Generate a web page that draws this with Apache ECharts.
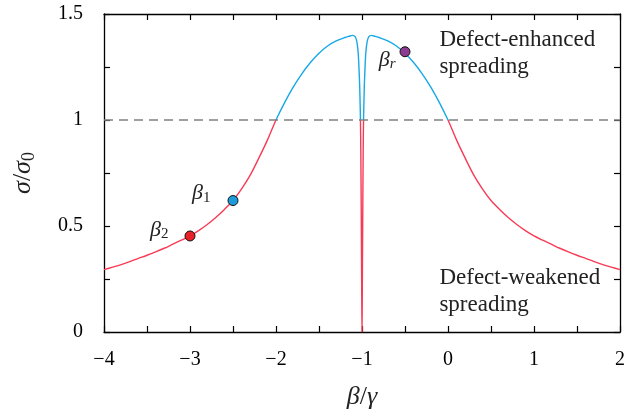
<!DOCTYPE html>
<html>
<head>
<meta charset="utf-8">
<script src="https://cdn.jsdelivr.net/npm/echarts@6/dist/echarts.min.js"></script>
<style>
html,body{margin:0;padding:0;background:#fff}
#main{width:640px;height:416px}
</style>
</head>
<body>
<div id="main"></div>
<script>
// curve: sigma/sigma0 against beta/gamma
var betaX=[-4.0,-3.9,-3.8,-3.7,-3.6,-3.5,-3.4,-3.3,-3.2,-3.1,-3.0,-2.9,-2.8,-2.7,-2.6,-2.5,-2.4,-2.3,-2.2,-2.1,-2.0,-1.9,-1.8,-1.7,-1.6,-1.5,-1.4,-1.3,-1.2,
    -1.15,-1.11,-1.08,-1.06,-1.045,-1.035,-1.027,-1.022,-1.018,-1.014,-1.01,-1.006,-1.003,-1.0,
    -0.997,-0.994,-0.99,-0.986,-0.982,-0.978,-0.973,-0.965,-0.955,-0.94,-0.92,-0.89,-0.85,
    -0.8,-0.7,-0.6,-0.5,-0.4,-0.3,-0.2,-0.1,0.0,0.1,0.2,0.3,0.4,0.5,0.6,0.7,0.8,0.9,1.0,1.1,1.2,1.3,1.4,1.5,1.6,1.7,1.8,1.9,2.0];
var sigmaY=[0.294,0.306,0.318,0.332,0.347,0.362,0.378,0.395,0.414,0.433,0.453,0.478,0.507,0.540,0.578,0.620,0.675,0.740,0.820,0.905,1.000,1.082,1.155,1.218,1.271,1.315,1.349,1.373,1.389,
    1.395,1.399,1.393,1.370,1.320,1.245,1.160,1.080,1.000,0.860,0.640,0.380,0.170,0.0,
    0.170,0.380,0.640,0.860,1.000,1.080,1.160,1.245,1.320,1.370,1.393,1.399,1.395,
    1.389,1.373,1.349,1.315,1.271,1.218,1.155,1.082,1.000,0.905,0.820,0.740,0.675,0.620,0.578,0.540,0.507,0.478,0.453,0.433,0.414,0.395,0.378,0.362,0.347,0.332,0.318,0.306,0.294];

// marked points
var markSub=['2','1','r'];
var markX=[-3.0,-2.5,-0.5];
var markY=[0.453,0.620,1.322];

var xLabels=[-4,-3,-2,-1,0,1,2];
var yLabels=[0,0.5,1,1.5];
var refLevel=1;

var serif='"Liberation Serif", "DejaVu Serif", serif';
var RED='#f83a55', BLUE='#17a8e6';
var markFill=['#e8202a','#1c9bdb','#8d3a92'];
var markLabel=[
    {distance:16,offset:[0,-6],italicSub:false},
    {distance:17,offset:[0,-7],italicSub:false},
    {distance:4,offset:[0,8],italicSub:true}
];

function minus(v){ return String(v).replace('-','\u2212'); }

var curve=[];
for(var i=0;i<betaX.length;i++) curve.push([betaX[i],sigmaY[i]]);

var marks=[];
for(var i=0;i<markX.length;i++){
    marks.push({
        value:[markX[i],markY[i]],
        itemStyle:{color:markFill[i]},
        label:{show:true,position:'left',distance:markLabel[i].distance,offset:markLabel[i].offset,
            formatter:'{b|β}{s|'+markSub[i]+'}',
            rich:{
                b:{fontFamily:serif,fontStyle:'italic',fontSize:22,color:'#222'},
                s:{fontFamily:serif,fontStyle:markLabel[i].italicSub?'italic':'normal',fontSize:15,color:'#222',padding:[9,0,0,0]}
            }}
    });
}

var axisLine={onZero:false,lineStyle:{color:'#000',width:1.3}};
var tick={inside:true,length:6,lineStyle:{color:'#000',width:1.2}};

var myChart=echarts.init(document.getElementById('main'));
var option={
    animation:false,
    backgroundColor:'#fff',
    grid:{left:104,right:20,top:14,bottom:84},
    xAxis:[{
        type:'value',min:-4,max:2,interval:0.5,position:'bottom',
        axisLine:axisLine,axisTick:tick,splitLine:{show:false},
        axisLabel:{margin:18,fontFamily:serif,fontSize:20,color:'#000',
            formatter:function(v){ return xLabels.indexOf(v)>=0?minus(v):''; }},
        name:'{i|β}{n|/}{i|γ}',nameLocation:'middle',nameGap:52,
        nameTextStyle:{rich:{i:{fontFamily:serif,fontStyle:'italic',fontSize:26,color:'#222'},n:{fontFamily:serif,fontSize:26,color:'#222'}}}
    },{
        type:'value',min:-4,max:2,interval:0.5,position:'top',
        axisLine:axisLine,axisTick:tick,axisLabel:{show:false},splitLine:{show:false}
    }],
    yAxis:[{
        type:'value',min:0,max:1.5,interval:0.25,position:'left',
        axisLine:axisLine,axisTick:tick,splitLine:{show:false},
        axisLabel:{margin:21,fontFamily:serif,fontSize:20,color:'#000',
            formatter:function(v){ return yLabels.indexOf(v)>=0?String(v):''; }},
        name:'{i|σ}{n|/}{i|σ}{s|0}',nameLocation:'middle',nameGap:66,nameRotate:90,
        nameTextStyle:{rich:{i:{fontFamily:serif,fontStyle:'italic',fontSize:26,color:'#222'},n:{fontFamily:serif,fontSize:26,color:'#222'},s:{fontFamily:serif,fontSize:18,color:'#222',padding:[11,0,0,0]}}}
    },{
        type:'value',min:0,max:1.5,interval:0.25,position:'right',
        axisLine:axisLine,axisTick:tick,axisLabel:{show:false},splitLine:{show:false}
    }],
    visualMap:{
        show:false,type:'piecewise',seriesIndex:0,dimension:1,
        pieces:[{gte:-1,lt:refLevel,color:RED},{gte:refLevel,lte:3,color:BLUE}]
    },
    series:[{
        type:'line',data:curve,showSymbol:false,lineStyle:{width:1.4},
        smooth:0.3,
        xAxisIndex:0,yAxisIndex:0,
        markLine:{silent:true,symbol:'none',label:{show:false},
            lineStyle:{color:'#808080',type:[9,6],width:1.6},
            data:[{yAxis:refLevel}]}
    },{
        type:'scatter',data:marks,symbolSize:10,z:5,
        xAxisIndex:0,yAxisIndex:0,
        itemStyle:{borderColor:'#111',borderWidth:1,opacity:1}
    }]
};
myChart.setOption(option);

// region notes, anchored in data coordinates
var noteFont='23px '+serif;
var p1=myChart.convertToPixel({xAxisIndex:0,yAxisIndex:0},[-0.1,1.44]);
var p2=myChart.convertToPixel({xAxisIndex:0,yAxisIndex:0},[-0.1,0.32]);
myChart.setOption({graphic:[
    {type:'text',x:p1[0],y:p1[1],style:{text:'Defect-enhanced\nspreading',font:noteFont,fill:'#222',lineHeight:27,verticalAlign:'top'}},
    {type:'text',x:p2[0],y:p2[1],style:{text:'Defect-weakened\nspreading',font:noteFont,fill:'#222',lineHeight:27,verticalAlign:'top'}}
]});
</script>
</body>
</html>
